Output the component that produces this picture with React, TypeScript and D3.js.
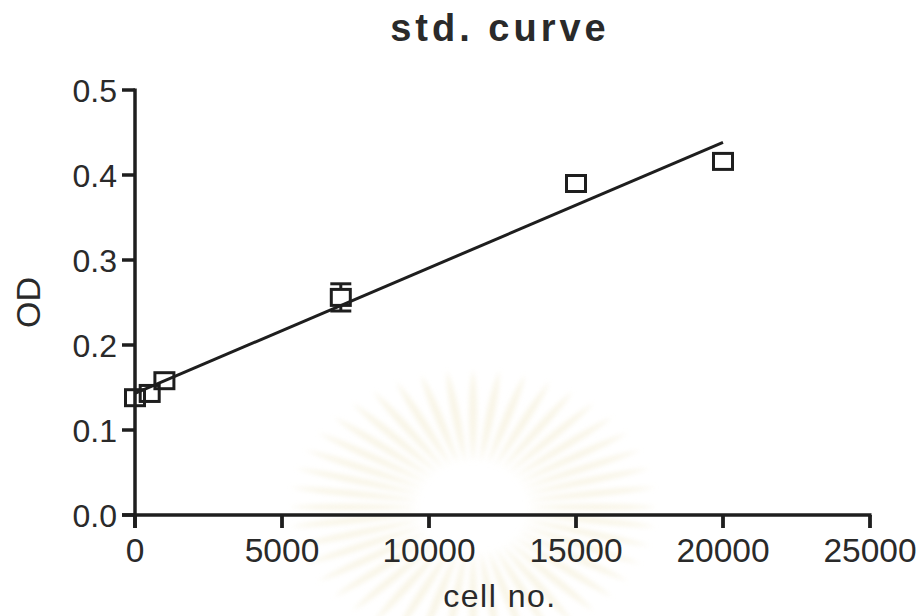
import React from "react";
import * as d3 from "d3";

// Standard curve: optical density vs. number of cells
const cellCounts = [0, 500, 1000, 7000, 15000, 20000];
const odMeans = [0.138, 0.143, 0.158, 0.256, 0.39, 0.416];
const odErrors = [0.004, 0.004, 0.005, 0.016, 0.006, 0.006];
const xTicks = [0, 5000, 10000, 15000, 20000, 25000];
const yTicks = [0.0, 0.1, 0.2, 0.3, 0.4, 0.5];

const W = 924;
const H = 616;
const INK = "#1e1e1e";
const FONT = "'Liberation Sans', Arial, sans-serif";

// least-squares line through the means
function linearFit(xs: number[], ys: number[]) {
  const mx = d3.mean(xs) as number;
  const my = d3.mean(ys) as number;
  let sxy = 0;
  let sxx = 0;
  xs.forEach((x, i) => {
    sxy += (x - mx) * (ys[i] - my);
    sxx += (x - mx) * (x - mx);
  });
  const slope = sxy / sxx;
  return { slope, intercept: my - slope * mx };
}

// faint emblem printed behind the plot area
function Sunburst({ cx, cy }: { cx: number; cy: number }) {
  const n = 44;
  const rays = d3.range(n).map((i) => {
    const a = (i / n) * Math.PI * 2;
    const r0x = 52, r0y = 44, r1x = 185, r1y = 138;
    const half = 0.06;
    const p = (ang: number, rx: number, ry: number) =>
      [cx + Math.cos(ang) * rx, cy + Math.sin(ang) * ry] as [number, number];
    const s = p(a, r0x, r0y);
    const e = p(a, r1x, r1y);
    const m1 = p(a - half, (r0x + r1x) * 0.55, (r0y + r1y) * 0.55);
    const m2 = p(a + half, (r0x + r1x) * 0.55, (r0y + r1y) * 0.55);
    return `M${s[0]},${s[1]} Q${m1[0]},${m1[1]} ${e[0]},${e[1]} Q${m2[0]},${m2[1]} ${s[0]},${s[1]}Z`;
  });
  return (
    <g filter="url(#soft)" opacity={0.6}>
      {rays.map((d, i) => (
        <path key={i} d={d} fill="#f4eed6" />
      ))}
    </g>
  );
}

export default function App() {
  const x = d3.scaleLinear().domain([0, 25000]).range([135, 870]);
  const y = d3.scaleLinear().domain([0, 0.5]).range([515, 90]);
  const fit = linearFit(cellCounts, odMeans);
  const x0 = d3.min(cellCounts) as number;
  const x1 = d3.max(cellCounts) as number;
  const fitLine = d3.line<number>()
    .x((v) => x(v))
    .y((v) => y(fit.intercept + fit.slope * v))([x0, x1]);

  const boxW = 19;
  const boxH = 16;
  const tickLen = 13;

  return (
    <div style={{ position: "absolute", left: 0, top: 0 }}>
      <svg width={W} height={H} viewBox={`0 0 ${W} ${H}`} style={{ display: "block", background: "#fff" }}>
        <defs>
          <filter id="soft" x="-20%" y="-20%" width="140%" height="140%">
            <feGaussianBlur stdDeviation="2.5" />
          </filter>
        </defs>
        <rect width={W} height={H} fill="#fff" />
        <Sunburst cx={473} cy={507} />

        {/* title */}
        <text x={500} y={41} textAnchor="middle" fontFamily={FONT} fontWeight="bold"
          fontSize={38} letterSpacing={4} fill="#2a2a2a">std. curve</text>

        {/* y axis */}
        <line x1={x(0)} x2={x(0)} y1={y(0.5) - 1.5} y2={y(0) + tickLen} stroke={INK} strokeWidth={3.5} />
        {yTicks.map((t) => (
          <g key={`y${t}`}>
            <line x1={x(0) - tickLen} x2={x(0)} y1={y(t)} y2={y(t)} stroke={INK} strokeWidth={3.5} />
            <text x={x(0) - 18} y={y(t)} dy="0.36em" textAnchor="end" fontFamily={FONT}
              fontSize={32} fill="#2a2a2a">{d3.format(".1f")(t)}</text>
          </g>
        ))}

        {/* x axis */}
        <line x1={x(0) - tickLen} x2={x(25000) + 1.5} y1={y(0)} y2={y(0)} stroke={INK} strokeWidth={3.5} />
        {xTicks.map((t) => (
          <g key={`x${t}`}>
            <line x1={x(t)} x2={x(t)} y1={y(0)} y2={y(0) + tickLen} stroke={INK} strokeWidth={3.8} />
            <text x={x(t)} y={562} textAnchor="middle" fontFamily={FONT} fontSize={33.5}
              fill="#2a2a2a">{String(t)}</text>
          </g>
        ))}

        {/* axis titles */}
        <text x={500} y={607} textAnchor="middle" fontFamily={FONT} fontSize={32}
          letterSpacing={1.5} fill="#2a2a2a">cell no.</text>
        <text transform={`translate(40,${(y(0) + y(0.5)) / 2}) rotate(-90)`} textAnchor="middle"
          fontFamily={FONT} fontSize={34} fill="#2a2a2a">OD</text>

        {/* regression line */}
        <path d={fitLine ?? ""} fill="none" stroke={INK} strokeWidth={3} />

        {/* error bars (only the parts that reach beyond the symbol) */}
        {cellCounts.map((c, i) => {
          const cx = x(c);
          const top = y(odMeans[i] + odErrors[i]);
          const bot = y(odMeans[i] - odErrors[i]);
          const cy = y(odMeans[i]);
          if (cy - top <= boxH / 2 + 1) return null;
          return (
            <g key={`e${c}`} stroke={INK} strokeWidth={3}>
              <line x1={cx} x2={cx} y1={top} y2={cy - boxH / 2} />
              <line x1={cx} x2={cx} y1={bot} y2={cy + boxH / 2} />
              <line x1={cx - boxW / 2 - 1} x2={cx + boxW / 2 + 1} y1={top} y2={top} />
              <line x1={cx - boxW / 2 - 1} x2={cx + boxW / 2 + 1} y1={bot} y2={bot} />
            </g>
          );
        })}

        {/* data symbols: open squares */}
        {cellCounts.map((c, i) => (
          <rect key={`p${c}`} x={x(c) - boxW / 2} y={y(odMeans[i]) - boxH / 2} width={boxW}
            height={boxH} fill="none" stroke={INK} strokeWidth={3} />
        ))}
      </svg>
    </div>
  );
}
